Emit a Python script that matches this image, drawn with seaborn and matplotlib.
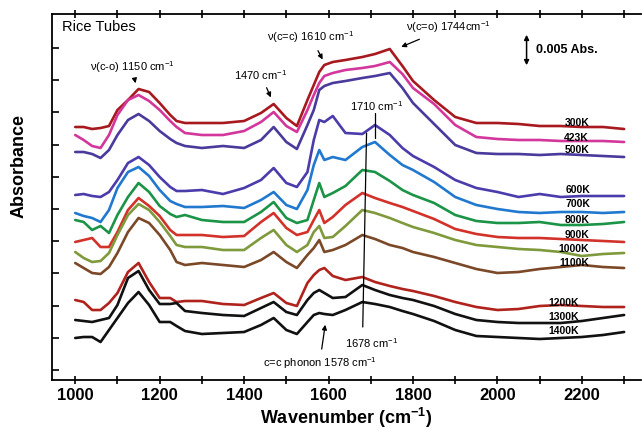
import matplotlib
matplotlib.use("Agg")
import matplotlib.pyplot as plt
import numpy as np
import pandas as pd
import seaborn as sns
from matplotlib.ticker import FixedLocator

# wavenumber grid (cm-1) shared by all spectra
wavenumber = [1000, 1020, 1040, 1060, 1080, 1100, 1125, 1150, 1175, 1200, 1225, 1240, 1260,
              1300, 1350, 1400, 1440, 1470, 1500, 1525, 1550, 1565, 1578, 1590, 1610, 1640,
              1680, 1710, 1745, 1775, 1800, 1850, 1900, 1950, 2000, 2050, 2100, 2150, 2200,
              2250, 2300]

# offset absorbance (arbitrary units)
abs_300 = [253, 253, 251, 252, 254, 270, 280, 291, 288, 277, 265, 259, 257, 257, 257, 259, 267, 276,
           262, 254, 280, 295, 308, 315, 318, 320, 323, 326, 331, 314, 299, 280, 263, 257, 257, 256,
           254, 254, 253, 253, 251]
abs_423 = [245, 240, 234, 232, 245, 265, 280, 285, 279, 270, 259, 253, 247, 245, 245, 249, 258, 268,
           254, 248, 270, 285, 297, 304, 307, 310, 312, 314, 318, 306, 292, 276, 255, 243, 241, 240,
           240, 239, 239, 239, 238]
abs_500 = [228, 228, 226, 222, 230, 245, 260, 266, 259, 249, 241, 237, 234, 232, 234, 232, 240, 253,
           238, 231, 255, 270, 290, 294, 297, 299, 302, 304, 307, 292, 277, 256, 235, 227, 226, 226,
           225, 226, 225, 224, 223]
abs_600 = [185, 186, 184, 183, 188, 200, 217, 223, 215, 203, 193, 189, 189, 190, 186, 192, 200, 212,
           197, 193, 208, 240, 260, 258, 264, 247, 246, 255, 245, 232, 224, 213, 200, 192, 188, 183,
           186, 183, 184, 184, 184]
abs_700 = [167, 164, 162, 158, 170, 192, 208, 213, 204, 190, 179, 176, 173, 173, 174, 172, 180, 188,
           175, 171, 190, 215, 230, 220, 223, 220, 233, 238, 225, 215, 210, 198, 183, 175, 171, 168,
           167, 168, 168, 167, 168]
abs_800 = [160, 158, 150, 154, 147, 165, 183, 197, 188, 174, 166, 163, 165, 160, 158, 158, 168, 178,
           162, 157, 160, 180, 197, 183, 187, 194, 210, 208, 199, 190, 185, 177, 165, 159, 157, 157,
           158, 155, 155, 156, 158]
abs_900 = [138, 140, 142, 133, 133, 148, 170, 182, 174, 164, 150, 145, 145, 145, 143, 144, 158, 167,
           152, 145, 148, 160, 170, 157, 163, 175, 187, 182, 177, 173, 169, 161, 151, 146, 143, 142,
           142, 141, 140, 139, 138]
abs_1000 = [128, 122, 118, 119, 127, 145, 165, 176, 170, 158, 144, 135, 133, 133, 130, 130, 142, 150,
            135, 128, 135, 148, 154, 142, 143, 154, 170, 167, 162, 157, 153, 147, 140, 135, 133, 131,
            130, 128, 124, 126, 127]
abs_1100 = [117, 112, 107, 106, 113, 127, 148, 162, 157, 145, 130, 118, 115, 117, 115, 113, 120, 128,
            118, 112, 125, 132, 140, 128, 130, 135, 145, 141, 135, 132, 128, 123, 117, 111, 107, 108,
            111, 113, 115, 113, 112]
abs_1200 = [80, 78, 70, 70, 77, 87, 108, 117, 98, 82, 82, 78, 79, 79, 76, 75, 82, 87, 77, 74, 97, 105,
            110, 112, 104, 100, 103, 98, 94, 91, 89, 84, 78, 73, 70, 71, 74, 75, 74, 73, 73]
abs_1300 = [60, 59, 58, 60, 62, 75, 102, 109, 90, 76, 76, 77, 69, 67, 65, 64, 72, 78, 68, 65, 80, 87,
            90, 87, 82, 83, 95, 90, 85, 82, 80, 74, 66, 60, 58, 57, 57, 57, 59, 62, 65]
abs_1400 = [42, 43, 43, 38, 50, 62, 77, 88, 75, 58, 58, 54, 49, 46, 47, 48, 55, 62, 50, 46, 58, 65,
            67, 66, 65, 70, 78, 76, 73, 69, 66, 59, 50, 44, 43, 42, 41, 42, 43, 45, 48]

temperatures = ["300K", "423K", "500K", "600K", "700K", "800K", "900K", "1000K", "1100K",
                "1200K", "1300K", "1400K"]
spectra = [abs_300, abs_423, abs_500, abs_600, abs_700, abs_800, abs_900, abs_1000, abs_1100,
           abs_1200, abs_1300, abs_1400]

colors = ["#a8191f", "#d3379b", "#4a3a9c", "#4b3cab", "#2079cf", "#1c9448", "#d2322a", "#7f9a3c",
          "#7b4828", "#b0231d", "#111111", "#111111"]

sns.set_style("ticks")
plt.rcParams["font.family"] = ["Liberation Sans", "DejaVu Sans"]
plt.rcParams["mathtext.fontset"] = "custom"
plt.rcParams["mathtext.rm"] = "Liberation Sans"
plt.rcParams["mathtext.bf"] = "Liberation Sans:bold"
for key in ["text.color", "axes.labelcolor", "xtick.color", "ytick.color", "axes.edgecolor"]:
    plt.rcParams[key] = "black"

df = pd.concat(
    [pd.DataFrame({"wavenumber": wavenumber, "absorbance": s, "temp": t})
     for t, s in zip(temperatures, spectra)],
    ignore_index=True,
)

fig = plt.figure(figsize=(6.42, 4.30), dpi=100)
ax = fig.add_axes([52 / 642, 50 / 430, 589 / 642, 366 / 430])

sns.lineplot(data=df, x="wavenumber", y="absorbance", hue="temp", hue_order=temperatures,
             palette=dict(zip(temperatures, colors)), linewidth=1.9, legend=False, ax=ax,
             sort=False)

ax.set_xlim(945, 2340)
ax.set_ylim(0, 366)

# axes styling: open right side, ticks every 100 cm-1
sns.despine(ax=ax, top=False, right=True)
for sp in ax.spines.values():
    sp.set_linewidth(1.3)
ax.xaxis.set_major_locator(FixedLocator([1000, 1200, 1400, 1600, 1800, 2000, 2200]))
ax.xaxis.set_minor_locator(FixedLocator([1100, 1300, 1500, 1700, 1900, 2100, 2300]))
ax.yaxis.set_major_locator(FixedLocator(np.arange(10, 340, 32.2)))
ax.tick_params(axis="x", which="both", direction="inout", length=6, width=1.2, top=True,
               labelsize=12, pad=3)
ax.tick_params(axis="y", which="major", direction="in", length=5, width=1.2, labelleft=False)
for lab in ax.get_xticklabels():
    lab.set_fontweight("bold")

ax.set_xlabel(r"Wavenumber (cm$^{\mathbf{-1}}$)", fontsize=13, fontweight="bold", labelpad=2)
ax.set_ylabel("Absorbance", fontsize=13, fontweight="bold")
ax.yaxis.set_label_coords(-0.041, 0.585)

# temperature labels at the right end of each trace
label_pos = {"300K": (2217, 257), "423K": (2217, 242), "500K": (2217, 230), "600K": (2220, 190),
             "700K": (2220, 176), "800K": (2217, 160), "900K": (2217, 145), "1000K": (2217, 131),
             "1100K": (2217, 117), "1200K": (2193, 77), "1300K": (2193, 63), "1400K": (2193, 49)}
for t in temperatures:
    x, y = label_pos[t]
    ax.text(x, y, t, fontsize=7.5, fontweight="bold", ha="right", va="center")

ax.text(968, 353, "Rice Tubes", fontsize=10.5, ha="left", va="center")

arrow = dict(arrowstyle="-|>", color="black", lw=0.9, mutation_scale=7)
ax.annotate(r"ν(c-o) 1150 cm$^{-1}$", xy=(1144, 294), xytext=(1135, 313), fontsize=8,
            ha="center", va="center", arrowprops=arrow)
ax.annotate(r"1470 cm$^{-1}$", xy=(1466, 280), xytext=(1440, 305), fontsize=8,
            ha="center", va="center", arrowprops=arrow)
ax.annotate(r"ν(c=c) 1610 cm$^{-1}$", xy=(1589, 318), xytext=(1558, 343), fontsize=8,
            ha="center", va="center", arrowprops=arrow)
ax.annotate(r"ν(c=o) 1744cm$^{-1}$", xy=(1766, 332), xytext=(1884, 353), fontsize=8,
            ha="center", va="center", arrowprops=arrow)
ax.annotate("c=c phonon 1578 cm$^{-1}$", xy=(1593, 58), xytext=(1579, 17), fontsize=8,
            ha="center", va="center", arrowprops=arrow)

# marker lines for 1710 and 1678 cm-1
ax.plot([1709, 1709], [242, 267], color="black", lw=0.9)
ax.text(1714, 274, r"1710 cm$^{-1}$", fontsize=8, ha="center", va="center")
ax.plot([1690, 1681], [247, 53], color="black", lw=0.9)
ax.text(1702, 37, r"1678 cm$^{-1}$", fontsize=8, ha="center", va="center")

# 0.005 Abs scale bar
ax.annotate("", xy=(2069, 312), xytext=(2069, 348),
            arrowprops=dict(arrowstyle="<|-|>", color="black", lw=1.1, mutation_scale=7))
ax.text(2092, 330, "0.005 Abs.", fontsize=9, fontweight="bold", ha="left", va="center")

fig.savefig("out.png", dpi=100)
